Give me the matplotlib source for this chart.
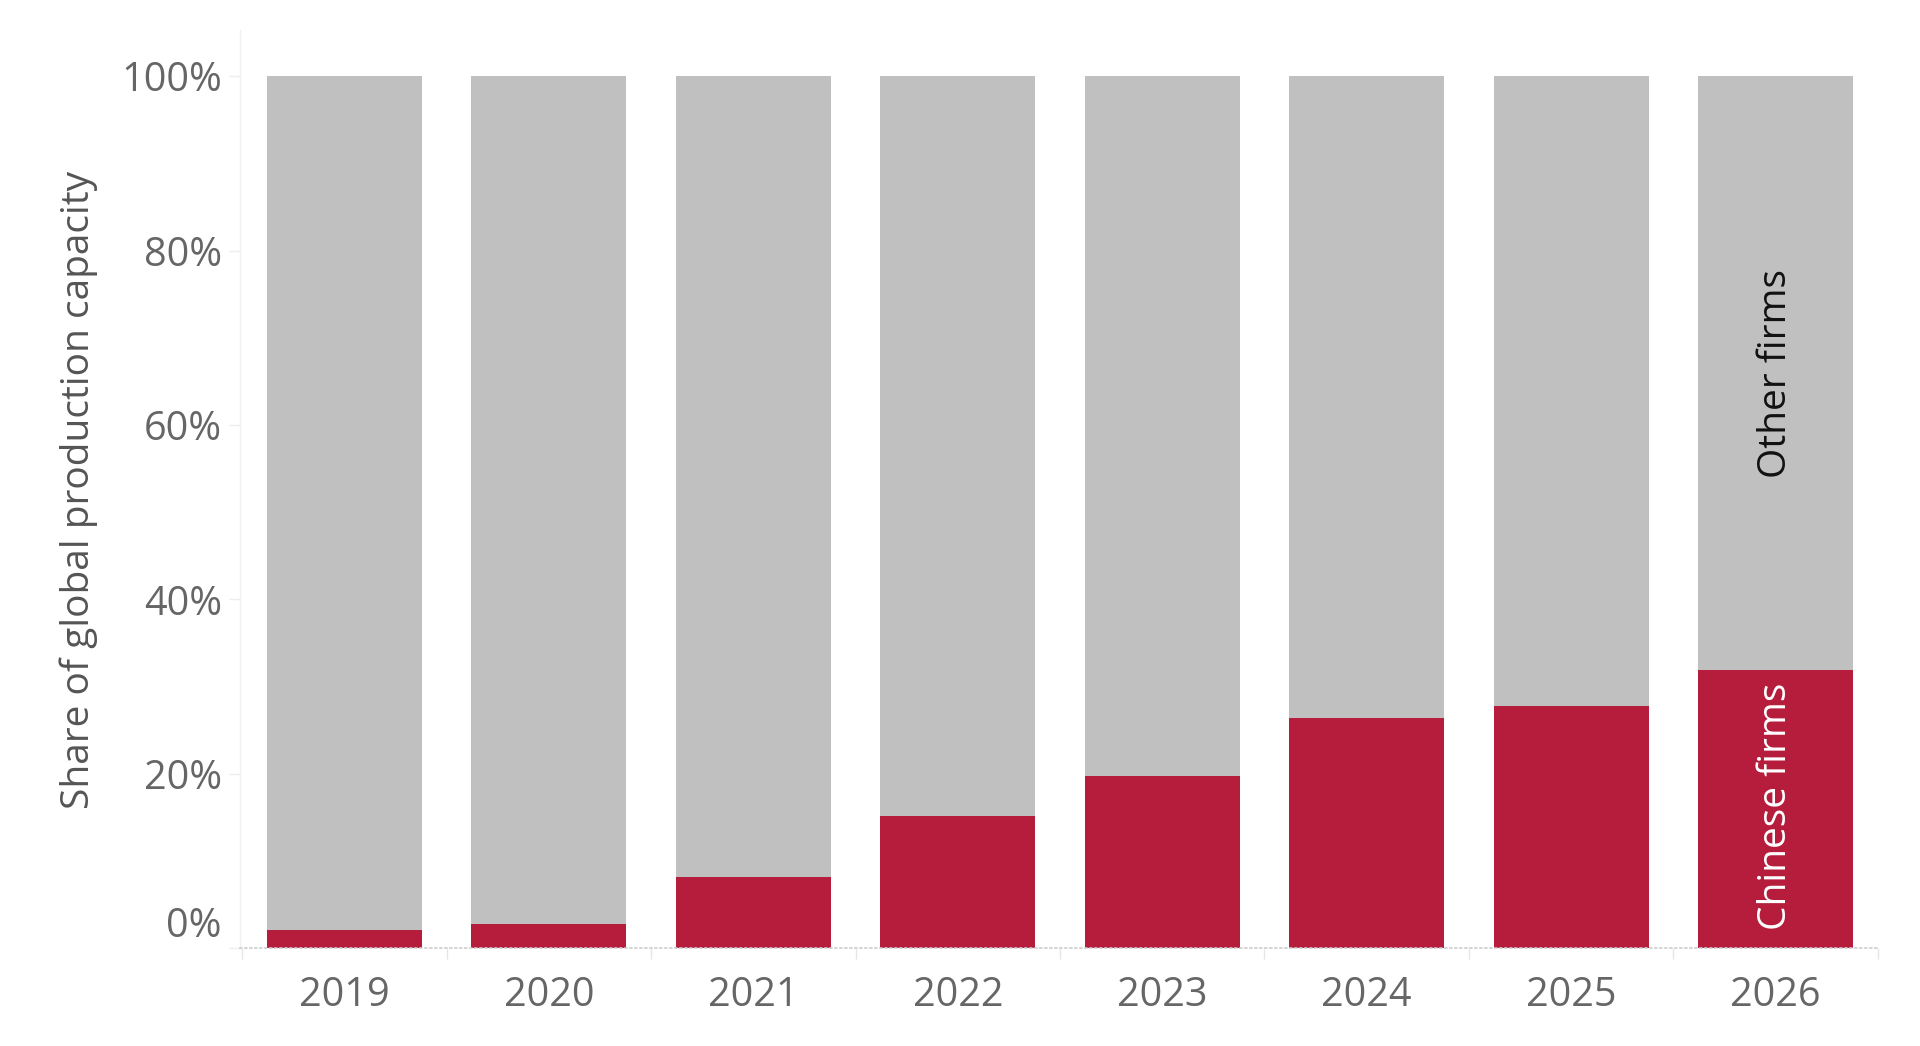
import matplotlib
matplotlib.use("Agg")
import matplotlib.pyplot as plt
from matplotlib.transforms import ScaledTranslation
import numpy as np

plt.rcParams['font.family'] = ['Open Sans', 'DejaVu Sans']

years = ["2019", "2020", "2021", "2022", "2023", "2024", "2025", "2026"]
chinese = [2.1, 2.8, 8.1, 15.1, 19.7, 26.4, 27.8, 31.9]
other = [100 - v for v in chinese]
yticks = [0, 20, 40, 60, 80, 100]
ytick_labels = ["0%", "20%", "40%", "60%", "80%", "100%"]
ylabel = "Share of global production capacity"
label_other = "Other firms"
label_chinese = "Chinese firms"

RED = "#B61C3C"
GREY = "#C0C0C0"
TICKCOL = "#666666"

W, H = 1920, 1046
fig = plt.figure(figsize=(W / 100, H / 100), dpi=100)
ax = fig.add_axes([240 / W, 1 - 948 / H, 1640 / W, (948 - 30) / H])

x = np.arange(len(years))
bw = 0.756
ax.bar(x, chinese, width=bw, color=RED, linewidth=0)
ax.bar(x, other, bottom=chinese, width=bw, color=GREY, linewidth=0)

ax.set_xlim(-0.51, len(years) - 0.49)
ax.set_ylim(0, 105.3)

# x axis
ax.set_xticks(x)
ax.set_xticklabels(years)
ax.tick_params(axis='x', which='major', length=0, pad=20, labelsize=28.5, labelcolor=TICKCOL)
ax.set_xticks(np.arange(-0.5, len(years), 1.0), minor=True)
ax.tick_params(axis='x', which='minor', length=8, width=1, color="#e6e6e6")

# y axis
ax.set_yticks(yticks)
ax.set_yticklabels([])
ax.tick_params(axis='y', which='major', length=8, width=1, color="#eeeeee")
ytr = ax.get_yaxis_transform()
for v, lab in zip(yticks, ytick_labels):
    dy = 21 if v == 0 else -5
    t = ytr + ScaledTranslation(-18 / 100, dy / 100, fig.dpi_scale_trans)
    ax.text(0, v, lab, transform=t, ha='right', va='center', fontsize=28.5, color=TICKCOL)

for s in ['top', 'right']:
    ax.spines[s].set_visible(False)
ax.spines['left'].set_color("#f0f0f0")
ax.spines['left'].set_linewidth(1)
ax.spines['bottom'].set_color("#cccccc")
ax.spines['bottom'].set_linestyle((0, (1, 2)))
ax.spines['bottom'].set_linewidth(1.2)

fig.text(79 / W, 1 - 490 / H, ylabel, rotation=90, ha='center', va='center',
         fontsize=28, color="#555555")

last = len(years) - 1
ax.text(x[last], chinese[last] + other[last] / 2, label_other, rotation=90,
        ha='center', va='center', fontsize=28, color="#111111")
ax.annotate(label_chinese, xy=(x[last], 0), xytext=(0, 13), textcoords='offset points',
            rotation=90, ha='center', va='bottom', fontsize=28, color="white")

fig.savefig("out.png", dpi=100, facecolor="white")
